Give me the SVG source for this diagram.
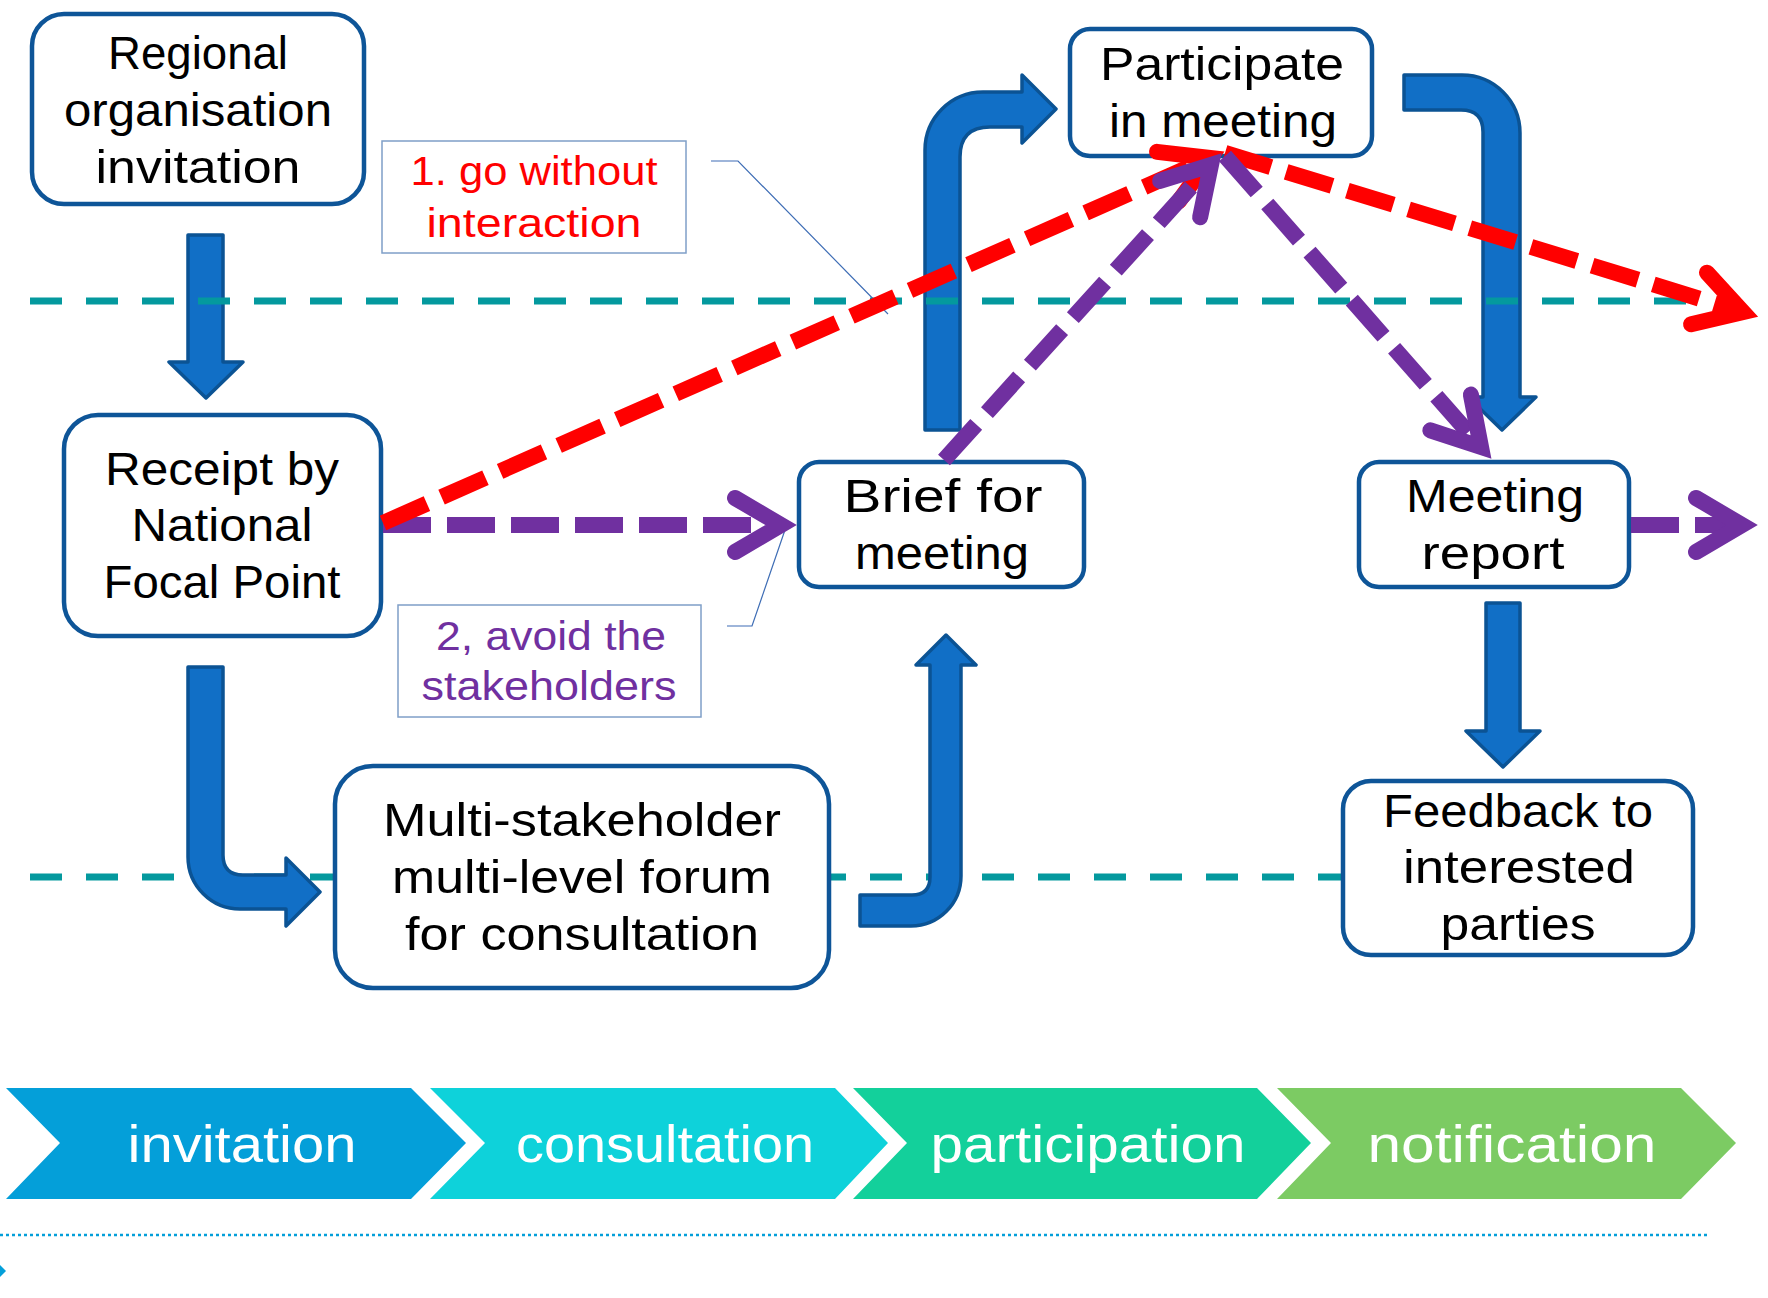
<svg xmlns="http://www.w3.org/2000/svg" width="1768" height="1298" viewBox="0 0 1768 1298">
<style>
.box{fill:#fff;stroke:#0E5598;stroke-width:4.5}
.lbl{fill:#fff;stroke:#7F9FC8;stroke-width:1.5}
.call{fill:none;stroke:#3E6DB5;stroke-width:1.2}
.t{font-family:"Liberation Sans",Arial,sans-serif;font-size:46px;fill:#000;text-anchor:middle}
.tl{font-family:"Liberation Sans",Arial,sans-serif;font-size:40px;text-anchor:middle}
.tc{font-family:"Liberation Sans",Arial,sans-serif;font-size:52px;fill:#fff;text-anchor:middle}
.blk{fill:#116FC6;stroke:#0B5394;stroke-width:3.5;stroke-linejoin:round}
.teal{stroke:#04999E;stroke-width:7;stroke-dasharray:32 24;fill:none}
.dp{fill:none;stroke:#7030A0;stroke-width:16;stroke-dasharray:48 16}
.dr{fill:none;stroke:#FF0000;stroke-width:16;stroke-dasharray:48 16}
</style>
<defs>
<marker id="mP" markerUnits="userSpaceOnUse" orient="auto" refX="0" refY="0" markerWidth="140" markerHeight="140" viewBox="-70 -70 140 140" overflow="visible">
<path d="M-46,-27 L0,0 L-46,27" fill="none" stroke="#7030A0" stroke-width="16" stroke-linecap="round" stroke-linejoin="miter"/>
</marker>
<marker id="mR" markerUnits="userSpaceOnUse" orient="auto" refX="0" refY="0" markerWidth="140" markerHeight="140" viewBox="-70 -70 140 140" overflow="visible">
<path d="M-46,-27 L0,0 L-46,27" fill="none" stroke="#FF0000" stroke-width="16" stroke-linecap="round" stroke-linejoin="miter"/>
</marker>
</defs>
<rect width="1768" height="1298" fill="#fff"/>

<g id="separator-bottom">
<line class="teal" x1="30" y1="877" x2="1341" y2="877"/>
</g>

<g id="connectors">
<g id="block-arrows">
<path class="blk" d="M188,235 L223,235 L223,362 L243,362 L206,398 L169,362 L188,362 Z"/>
<path class="blk" d="M188,667 L223,667 L223,855 Q223,875 243,875 L286,875 L286,858 L320,892 L286,926 L286,909 L240,909 A52,52 0 0 1 188,857 Z"/>
<path class="blk" d="M860,895 L912,895 Q930,895 930,877 L930,665 L916,665 L946,635 L976,665 L961,665 L961,876 A50,50 0 0 1 911,926 L860,926 Z"/>
<path class="blk" d="M925,430 L925,150 A58,58 0 0 1 983,92 L1022,92 L1022,75 L1056,109 L1022,143 L1022,127 L990,127 Q960,127 960,157 L960,430 Z"/>
<path class="blk" d="M1404,75 L1462,75 A58,58 0 0 1 1520,133 L1520,397 L1536,397 L1502,430 L1468,397 L1483,397 L1483,132 Q1483,110 1461,110 L1404,110 Z"/>
<path class="blk" d="M1486,603 L1520,603 L1520,731 L1540,731 L1503,767 L1466,731 L1486,731 Z"/>
</g>
<g id="separator-top">
<line class="teal" x1="30" y1="301" x2="1686" y2="301"/>
</g>
</g>

<g id="node-regional">
<rect class="box" x="32" y="14" width="332" height="190" rx="32"/>
<text class="t" x="198" y="69" textLength="180" lengthAdjust="spacingAndGlyphs">Regional</text>
<text class="t" x="198" y="126" textLength="268" lengthAdjust="spacingAndGlyphs">organisation</text>
<text class="t" x="198" y="183" textLength="205" lengthAdjust="spacingAndGlyphs">invitation</text>
</g>
<g id="node-receipt">
<rect class="box" x="64" y="415" width="317" height="221" rx="34"/>
<text class="t" x="222" y="485" textLength="234" lengthAdjust="spacingAndGlyphs">Receipt by</text>
<text class="t" x="222" y="541" textLength="181" lengthAdjust="spacingAndGlyphs">National</text>
<text class="t" x="222" y="598" textLength="237" lengthAdjust="spacingAndGlyphs">Focal Point</text>
</g>
<g id="node-multi">
<rect class="box" x="335" y="766" width="494" height="222" rx="38"/>
<text class="t" x="582" y="836" textLength="398" lengthAdjust="spacingAndGlyphs">Multi-stakeholder</text>
<text class="t" x="582" y="893" textLength="380" lengthAdjust="spacingAndGlyphs">multi-level forum</text>
<text class="t" x="582" y="950" textLength="354" lengthAdjust="spacingAndGlyphs">for consultation</text>
</g>
<g id="node-brief">
<rect class="box" x="799" y="462" width="285" height="125" rx="20"/>
<text class="t" x="943" y="512" textLength="199" lengthAdjust="spacingAndGlyphs">Brief for</text>
<text class="t" x="942" y="569" textLength="174" lengthAdjust="spacingAndGlyphs">meeting</text>
</g>
<g id="node-participate">
<rect class="box" x="1070" y="29" width="302" height="127" rx="20"/>
<text class="t" x="1222" y="80" textLength="244" lengthAdjust="spacingAndGlyphs">Participate</text>
<text class="t" x="1223" y="137" textLength="228" lengthAdjust="spacingAndGlyphs">in meeting</text>
</g>
<g id="node-report">
<rect class="box" x="1359" y="462" width="270" height="125" rx="20"/>
<text class="t" x="1495" y="512" textLength="178" lengthAdjust="spacingAndGlyphs">Meeting</text>
<text class="t" x="1493" y="569" textLength="143" lengthAdjust="spacingAndGlyphs">report</text>
</g>
<g id="node-feedback">
<rect class="box" x="1343" y="781" width="350" height="174" rx="28"/>
<text class="t" x="1518" y="827" textLength="270" lengthAdjust="spacingAndGlyphs">Feedback to</text>
<text class="t" x="1519" y="883" textLength="232" lengthAdjust="spacingAndGlyphs">interested</text>
<text class="t" x="1518" y="940" textLength="155" lengthAdjust="spacingAndGlyphs">parties</text>
</g>

<g id="label-1">
<rect class="lbl" x="382" y="141" width="304" height="112"/>
<polyline class="call" points="711,161 738,161 888,314"/>
<text class="tl" x="534" y="185" fill="#FF0000" textLength="247" lengthAdjust="spacingAndGlyphs">1. go without</text>
<text class="tl" x="534" y="237" fill="#FF0000" textLength="215" lengthAdjust="spacingAndGlyphs">interaction</text>
</g>
<g id="label-2">
<rect class="lbl" x="398" y="605" width="303" height="112"/>
<polyline class="call" points="727,626 752,626 786,527"/>
<text class="tl" x="551" y="650" fill="#7030A0" textLength="230" lengthAdjust="spacingAndGlyphs">2, avoid the</text>
<text class="tl" x="549" y="700" fill="#7030A0" textLength="255" lengthAdjust="spacingAndGlyphs">stakeholders</text>
</g>

<g id="dashed-connectors">
<line class="dp" x1="383" y1="525" x2="781" y2="525" marker-end="url(#mP)"/>
<line class="dr" x1="383" y1="523" x2="1210" y2="158" marker-end="url(#mR)"/>
<line class="dr" x1="1225" y1="153" x2="1743" y2="312" marker-end="url(#mR)"/>
<line class="dp" x1="944" y1="460" x2="1211" y2="165" marker-end="url(#mP)"/>
<line class="dp" x1="1225" y1="156" x2="1481" y2="447" marker-end="url(#mP)"/>
<line class="dp" x1="1631" y1="525" x2="1742" y2="525" marker-end="url(#mP)"/>
</g>

<g id="phase-bar">
<polygon points="6,1088 411,1088 466,1143 411,1199 6,1199 60,1143" fill="#049FD9"/>
<polygon points="430,1088 835,1088 888,1143 835,1199 430,1199 485,1143" fill="#0ED2DA"/>
<polygon points="853,1088 1257,1088 1311,1143 1257,1199 853,1199 907,1143" fill="#13D09B"/>
<polygon points="1277,1088 1681,1088 1736,1143 1681,1199 1277,1199 1331,1143" fill="#7CCB63"/>
<text class="tc" x="242" y="1162" textLength="229" lengthAdjust="spacingAndGlyphs">invitation</text>
<text class="tc" x="665" y="1162" textLength="298" lengthAdjust="spacingAndGlyphs">consultation</text>
<text class="tc" x="1088" y="1162" textLength="315" lengthAdjust="spacingAndGlyphs">participation</text>
<text class="tc" x="1512" y="1162" textLength="289" lengthAdjust="spacingAndGlyphs">notification</text>
</g>
<g id="footer">
<line x1="0" y1="1235" x2="1710" y2="1235" stroke="#049FD9" stroke-width="2.5" stroke-dasharray="3 3"/>
<polygon points="0,1265 6,1271 0,1277" fill="#049FD9"/>
</g>
</svg>
